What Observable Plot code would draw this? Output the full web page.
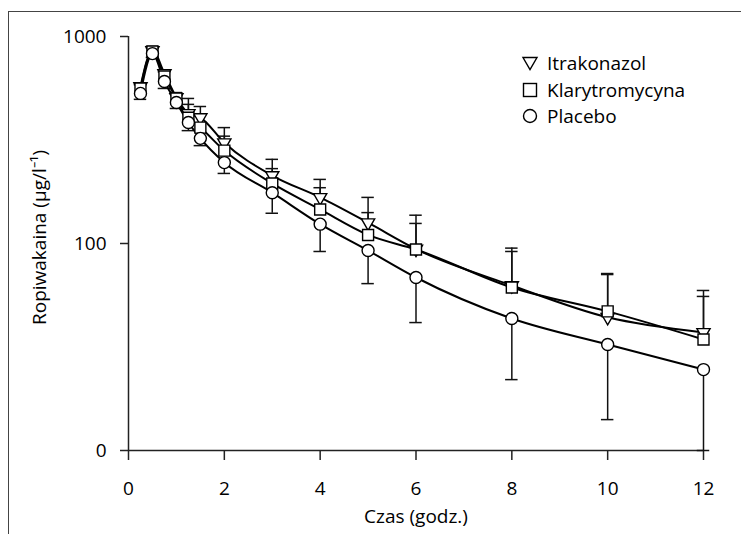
<!DOCTYPE html>
<html>
<head>
<meta charset="utf-8">
<script src="https://cdn.jsdelivr.net/npm/d3@7"></script>
<script src="https://cdn.jsdelivr.net/npm/@observablehq/plot@0.6"></script>
<style>
  html, body { margin: 0; padding: 0; background: #fff; }
  #wrap { position: relative; width: 741px; height: 534px; overflow: hidden; font-family: "Open Sans", sans-serif; }
  #frame { position: absolute; left: 8px; top: 11px; width: 760px; height: 560px; border-left: 1.5px solid #444; border-top: 1.5px solid #444; box-sizing: border-box; pointer-events: none; }
  #legend { position: absolute; left: 521px; top: 50px; font-size: 19px; color: #000; line-height: 26.5px; }
  #legend .row { display: flex; align-items: center; height: 26.5px; }
  #legend svg { width: 18px; height: 18px; margin-right: 8px; overflow: visible; }
</style>
</head>
<body>
<div id="wrap">
  <div id="chart"></div>
  <div id="frame"></div>
  <div id="legend"></div>
</div>
<script>
// ---- data ----
const times = [0.25, 0.5, 0.75, 1, 1.25, 1.5, 2, 3, 4, 5, 6, 8, 10, 12];
const itrakonazol      = [573, 856, 663, 507, 425, 406, 307, 213, 167, 126, 94, 62.7, 44, 37.2];
const itrakonazolUpper = [593, 895, 690, 536, 502, 459, 363, 255, 204, 167, 137, 95, 71.6, 59.3];
const klarytromycyna      = [561, 846, 641, 502, 405, 363, 281, 195, 146, 110, 93.5, 61.3, 47, 34.4];
const klarytromycynaUpper = [585, 880, 675, 530, 470, 420, 330, 230, 186, 141, 125, 91.5, 70.8, 55.5];
const placebo      = [531, 827, 606, 480, 384, 322, 246, 176, 124, 92.5, 68.5, 43.4, 32.5, 24.6];
const placeboLower = [497, 792, 561, 449, 351, 297, 218, 140, 91.5, 64, 41.5, 22, 14.1, 10];
const seriesNames = ["Itrakonazol", "Klarytromycyna", "Placebo"];
const xTicks = [0, 2, 4, 6, 8, 10, 12];
const yTicks = [10, 100, 1000];
const yTickLabels = ["0", "100", "1000"];
const xTitle = "Czas (godz.)";
const yTitle = "Ropiwakaina (µg/l\u207B\u00B9)";

// ---- build tables ----
function table(name, vals, bound) {
  return times.map((t, i) => ({ series: name, t, v: vals[i], b: bound[i] }));
}
const itra = table(seriesNames[0], itrakonazol, itrakonazolUpper);
const klar = table(seriesNames[1], klarytromycyna, klarytromycynaUpper);
const plac = table(seriesNames[2], placebo, placeboLower);
const all = [...itra, ...klar, ...plac];
const capHalf = 0.13;

const chart = Plot.plot({
  width: 741,
  height: 534,
  marginLeft: 128,
  marginRight: 38,
  marginTop: 36,
  marginBottom: 84,
  style: { fontFamily: "'Open Sans', sans-serif", fontSize: "19px", color: "#000", background: "transparent", overflow: "visible" },
  x: { domain: [0, 12] },
  y: { type: "log", domain: [10, 1000] },
  marks: [
    Plot.axisX({ ticks: xTicks, tickSize: 10, tickPadding: 21, tickFormat: d => String(d), label: null, stroke: "#222", strokeWidth: 1.5 }),
    Plot.axisY({ ticks: yTicks, tickSize: 8, tickPadding: 14, tickFormat: d => yTickLabels[yTicks.indexOf(d)], label: null, stroke: "#222", strokeWidth: 1.5 }),
    Plot.ruleX([0], { stroke: "#222", strokeWidth: 1.5 }),
    Plot.ruleY([10], { stroke: "#222", strokeWidth: 1.5 }),
    // error bars
    Plot.ruleX(all, { x: "t", y1: "v", y2: "b", stroke: "#111", strokeWidth: 1.5 }),
    Plot.ruleY(all, { y: "b", x1: d => d.t - capHalf, x2: d => d.t + capHalf, stroke: "#111", strokeWidth: 1.5 }),
    // lines
    Plot.line(all, { x: "t", y: "v", z: "series", curve: "monotone-x", stroke: "#000", strokeWidth: 2 }),
    // markers
    Plot.dot(itra, { x: "t", y: "v", symbol: "triangle", rotate: 180, r: 4.9, fill: "#fff", stroke: "#000", strokeWidth: 1.4 }),
    Plot.dot(klar, { x: "t", y: "v", symbol: "square", r: 6.2, fill: "#fff", stroke: "#000", strokeWidth: 1.4 }),
    Plot.dot(plac, { x: "t", y: "v", symbol: "circle", r: 6, fill: "#fff", stroke: "#000", strokeWidth: 1.4 }),
    // axis titles
    Plot.text([xTitle], { frameAnchor: "bottom", lineAnchor: "middle", textAnchor: "middle", dy: 66, text: d => d, fontSize: 19, fill: "#000" }),
    Plot.text([yTitle], { frameAnchor: "left", lineAnchor: "middle", textAnchor: "middle", dx: -89, dy: -6, rotate: -90, text: d => d, fontSize: 19, fill: "#000" })
  ]
});
document.getElementById("chart").appendChild(chart);

// ---- legend ----
const symbolSvgs = [
  '<svg viewBox="-9 -9 18 18"><path d="M-7,-5.5 L7,-5.5 L0,6.5 Z" fill="#fff" stroke="#000" stroke-width="1.4"/></svg>',
  '<svg viewBox="-9 -9 18 18"><rect x="-6.5" y="-6.5" width="13" height="13" fill="#fff" stroke="#000" stroke-width="1.4"/></svg>',
  '<svg viewBox="-9 -9 18 18"><circle r="6.5" fill="#fff" stroke="#000" stroke-width="1.4"/></svg>'
];
const legend = document.getElementById("legend");
seriesNames.forEach((name, i) => {
  const row = document.createElement("div");
  row.className = "row";
  row.innerHTML = symbolSvgs[i];
  const span = document.createElement("span");
  span.textContent = name;
  row.appendChild(span);
  legend.appendChild(row);
});
</script>
</body>
</html>
